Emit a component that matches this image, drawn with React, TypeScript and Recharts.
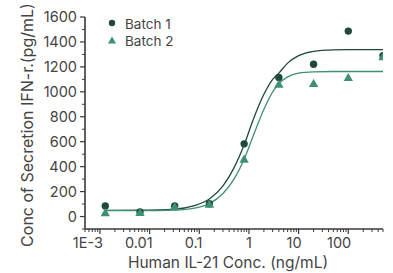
import React from "react";
import { ComposedChart, Line, Scatter, XAxis, YAxis } from "recharts";

// measured concentrations (ng/mL), 5-fold dilution
const CONC = [0.00128, 0.0064, 0.032, 0.16, 0.8, 4, 20, 100, 500];
const BATCH1 = [85, 36, 84, 102, 583, 1115, 1221, 1487, 1290];
const BATCH2 = [32, 34, 80, 100, 460, 1062, 1067, 1115, 1282];

// fitted curves
const FIT_CONC = [0.00128, 0.0064, 0.032, 0.08, 0.16, 0.3, 0.5, 0.8, 1.2, 2, 3, 4, 6, 10, 20, 50, 100, 500];
const FIT1 = [50, 51, 60, 88, 140, 245, 390, 575, 770, 980, 1100, 1150, 1230, 1290, 1325, 1336, 1338, 1338];
const FIT2 = [48, 48, 52, 68, 104, 185, 300, 460, 640, 860, 1000, 1065, 1120, 1150, 1160, 1163, 1163, 1163];

const X_MAJOR = [0.001, 0.01, 0.1, 1, 10, 100];
const X_LABELS = ["1E-3", "0.01", "0.1", "1", "10", "100"];
const Y_MAJOR = [0, 200, 400, 600, 800, 1000, 1200, 1400, 1600];
const Y_MINOR = [-100, 100, 300, 500, 700, 900, 1100, 1300, 1500];

const X_MIN = 0.0005;
const X_MAX = 500;

const DARK = "#1f4a3b";
const TEAL = "#3f8f77";
const AXIS = "#3a3a3a";
const TEXT = "#444";
const FONT = "Inter, 'Open Sans', sans-serif";

const xMinor: number[] = [];
[0.0001, 0.001, 0.01, 0.1, 1, 10, 100].forEach((d) => {
  [2, 3, 4, 5, 6, 7, 8, 9].forEach((m) => {
    const v = +(d * m).toPrecision(3);
    if (v >= X_MIN && v <= X_MAX) xMinor.push(v);
  });
});
const X_TICKS = [...X_MAJOR, ...xMinor].sort((a, b) => a - b);
const Y_TICKS = [...Y_MAJOR, ...Y_MINOR].sort((a, b) => a - b);

function XTick(props: any) {
  const { x, y, payload } = props;
  const idx = X_MAJOR.findIndex((v) => Math.abs(v - payload.value) / v < 1e-6);
  if (idx < 0) {
    return <line x1={x} x2={x} y1={y} y2={y + 3} stroke={AXIS} strokeWidth={1} />;
  }
  return (
    <g>
      <line x1={x} x2={x} y1={y} y2={y + 5} stroke={AXIS} strokeWidth={1.2} />
      <text x={x + 3} y={y + 19} textAnchor="end" fontSize={14.5} fill={TEXT} fontFamily={FONT}>
        {X_LABELS[idx]}
      </text>
    </g>
  );
}

function YTick(props: any) {
  const { x, y, payload } = props;
  if (!Y_MAJOR.includes(payload.value)) {
    return <line x1={x - 3} x2={x} y1={y} y2={y} stroke={AXIS} strokeWidth={1} />;
  }
  return (
    <g>
      <line x1={x - 5} x2={x} y1={y} y2={y} stroke={AXIS} strokeWidth={1.2} />
      <text x={x - 8} y={y + 5} textAnchor="end" fontSize={14.5} fill={TEXT} fontFamily={FONT}>
        {payload.value}
      </text>
    </g>
  );
}

const Circle = (p: any) => <circle cx={p.cx} cy={p.cy} r={3.7} fill={DARK} />;
const Tri = (p: any) => (
  <polygon
    points={`${p.cx},${p.cy - 4.6} ${p.cx - 4.7},${p.cy + 3.6} ${p.cx + 4.7},${p.cy + 3.6}`}
    fill={TEAL}
  />
);

export default function App() {
  const pts1 = CONC.map((x, i) => ({ x, y: BATCH1[i] }));
  const pts2 = CONC.map((x, i) => ({ x, y: BATCH2[i] }));
  const fit1 = FIT_CONC.map((x, i) => ({ x, y: FIT1[i] }));
  const fit2 = FIT_CONC.map((x, i) => ({ x, y: FIT2[i] }));

  return (
    <div style={{ position: "absolute", left: 0, top: 0, width: 393, height: 273, background: "#fff" }}>
      <ComposedChart width={393} height={273} margin={{ top: 17, right: 10, bottom: 0, left: 0 }}>
        <XAxis
          dataKey="x"
          type="number"
          scale="log"
          domain={[X_MIN, X_MAX]}
          allowDataOverflow
          ticks={X_TICKS}
          interval={0}
          tick={<XTick />}
          tickLine={false}
          tickSize={0}
          tickMargin={0}
          height={44}
          axisLine={{ stroke: AXIS, strokeWidth: 1.6 }}
        />
        <YAxis
          dataKey="y"
          type="number"
          domain={[-100, 1600]}
          allowDataOverflow
          ticks={Y_TICKS}
          interval={0}
          tick={<YTick />}
          tickLine={false}
          tickSize={0}
          tickMargin={0}
          width={85}
          axisLine={{ stroke: AXIS, strokeWidth: 1.6 }}
        />
        <Line data={fit1} dataKey="y" type="monotone" stroke={DARK} strokeWidth={1.3} dot={false} isAnimationActive={false} />
        <Line data={fit2} dataKey="y" type="monotone" stroke={TEAL} strokeWidth={1.3} dot={false} isAnimationActive={false} />
        <Scatter data={pts1} dataKey="y" shape={<Circle />} isAnimationActive={false} />
        <Scatter data={pts2} dataKey="y" shape={<Tri />} isAnimationActive={false} />
      </ComposedChart>
      <svg width={393} height={273} style={{ position: "absolute", left: 0, top: 0, pointerEvents: "none" }}>
        <text
          transform="translate(33,125) rotate(-90)"
          textAnchor="middle"
          fontSize={16}
          fill={TEXT}
          fontFamily={FONT}
        >
          Conc of Secretion IFN-r.(pg/mL)
        </text>
        <text x={228} y={268} textAnchor="middle" fontSize={15.5} fill={TEXT} fontFamily={FONT}>
          Human IL-21 Conc. (ng/mL)
        </text>
        <circle cx={112} cy={23} r={3.2} fill={DARK} />
        <text x={125} y={29} fontSize={13.5} fill={TEXT} fontFamily={FONT}>
          Batch 1
        </text>
        <polygon points="112,36.5 108,43.5 116,43.5" fill={TEAL} />
        <text x={125} y={46} fontSize={13.5} fill={TEXT} fontFamily={FONT}>
          Batch 2
        </text>
      </svg>
    </div>
  );
}
